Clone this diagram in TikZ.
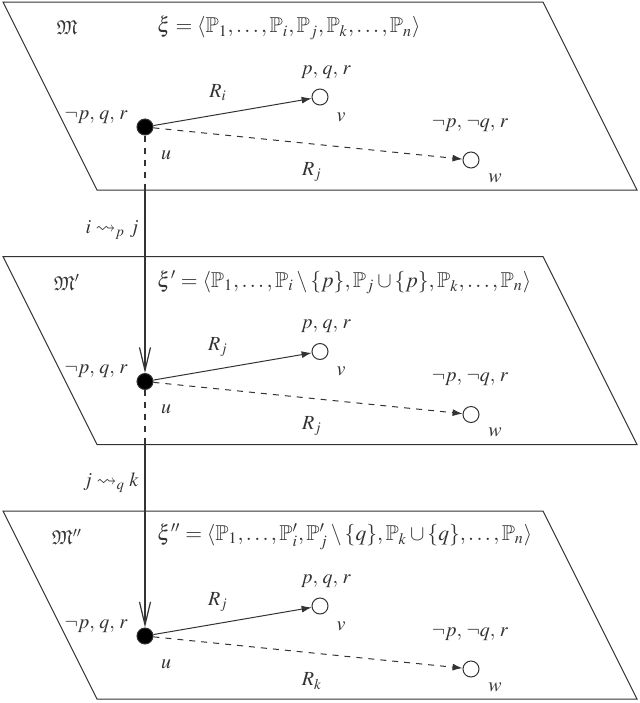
\documentclass[tikz,border=0pt]{standalone}
\usepackage{amssymb}
\usepackage{mathptmx}
\usetikzlibrary{arrows.meta}
\definecolor{ink}{HTML}{333333}
\tikzset{
  plane/.style={draw=ink, line width=0.5pt},
  world/.style={circle, draw=ink, line width=0.5pt, minimum size=8pt, inner sep=0pt},
  actual/.style={world, fill=black},
  rel/.style={draw=ink, line width=0.5pt, -{Latex[length=5pt,width=3.5pt]}},
  hid/.style={rel, dashed},
  lbl/.style={text=ink, inner sep=0pt},
  formula/.style={lbl, anchor=west, font=\fontsize{10.8}{13}\selectfont},
  move/.style={draw=ink, line width=0.6pt, -{Straight Barb[length=11.5pt,width=5.5pt]}},
  drop/.style={draw=ink, line width=0.6pt, dashed},
}
\newcommand\kplane[6]{%
  \begin{scope}[shift={(0,#2)}]
  \draw[plane] (3,2) -- (543,2) -- (637,190) -- (97,190) -- cycle;
  \node[actual] (u#1) at (145,127) {};
  \node[world] (v#1) at (320,97) {};
  \node[world] (w#1) at (471,160) {};
  \coordinate (b#1) at (145,190);
  \node[lbl] (M#1) at (67,28) {$#3$};
  \node[formula] (xi#1) at (157,28) {$#4$};
  \node[lbl] (pv#1) at (326,72) {$p,\,q,\,r$};
  \node[lbl] (Rv#1) at (218,93) {$#5$};
  \node[lbl, anchor=east] (pu#1) at (128,117) {$\neg p,\,q,\,r$};
  \node[lbl] (nu#1) at (166,155) {$u$};
  \node[lbl] (nv#1) at (341,117) {$v$};
  \node[lbl] (pw#1) at (470,125) {$\neg p,\,\neg q,\,r$};
  \node[lbl] (Rw#1) at (312,172) {$#6$};
  \node[lbl] (nw#1) at (495,178) {$w$};
  \draw[rel] (u#1) -- (v#1);
  \draw[hid] (u#1) -- (w#1);
  \end{scope}
}
\begin{document}
\begin{tikzpicture}[x=0.5pt,y=-0.5pt]
\useasboundingbox (0,0) rectangle (640,703);
\kplane{1}{0}{\mathfrak{M}}{\xi=\langle\mathbb{P}_1,\ldots,\mathbb{P}_i,\mathbb{P}_j,\mathbb{P}_k,\ldots,\mathbb{P}_n\rangle}{R_i}{R_j}
\kplane{2}{254.5}{\mathfrak{M}'}{\xi'=\langle\mathbb{P}_1,\ldots,\mathbb{P}_i\setminus\{p\},\mathbb{P}_j\cup\{p\},\mathbb{P}_k,\ldots,\mathbb{P}_n\rangle}{R_j}{R_j}
\kplane{3}{509}{\mathfrak{M}''}{\xi''=\langle\mathbb{P}_1,\ldots,\mathbb{P}'_i,\mathbb{P}'_j\setminus\{q\},\mathbb{P}_k\cup\{q\},\ldots,\mathbb{P}_n\rangle}{R_j}{R_k}
\draw[drop] (u1) -- (b1);
\draw[move] (b1) -- (u2);
\draw[drop] (u2) -- (b2);
\draw[move] (b2) -- (u3);
\node[lbl, anchor=east] (t1) at (139,230) {$i\rightsquigarrow_p j$};
\node[lbl, anchor=east] (t2) at (139,483) {$j\rightsquigarrow_q k$};
\end{tikzpicture}
\end{document}
